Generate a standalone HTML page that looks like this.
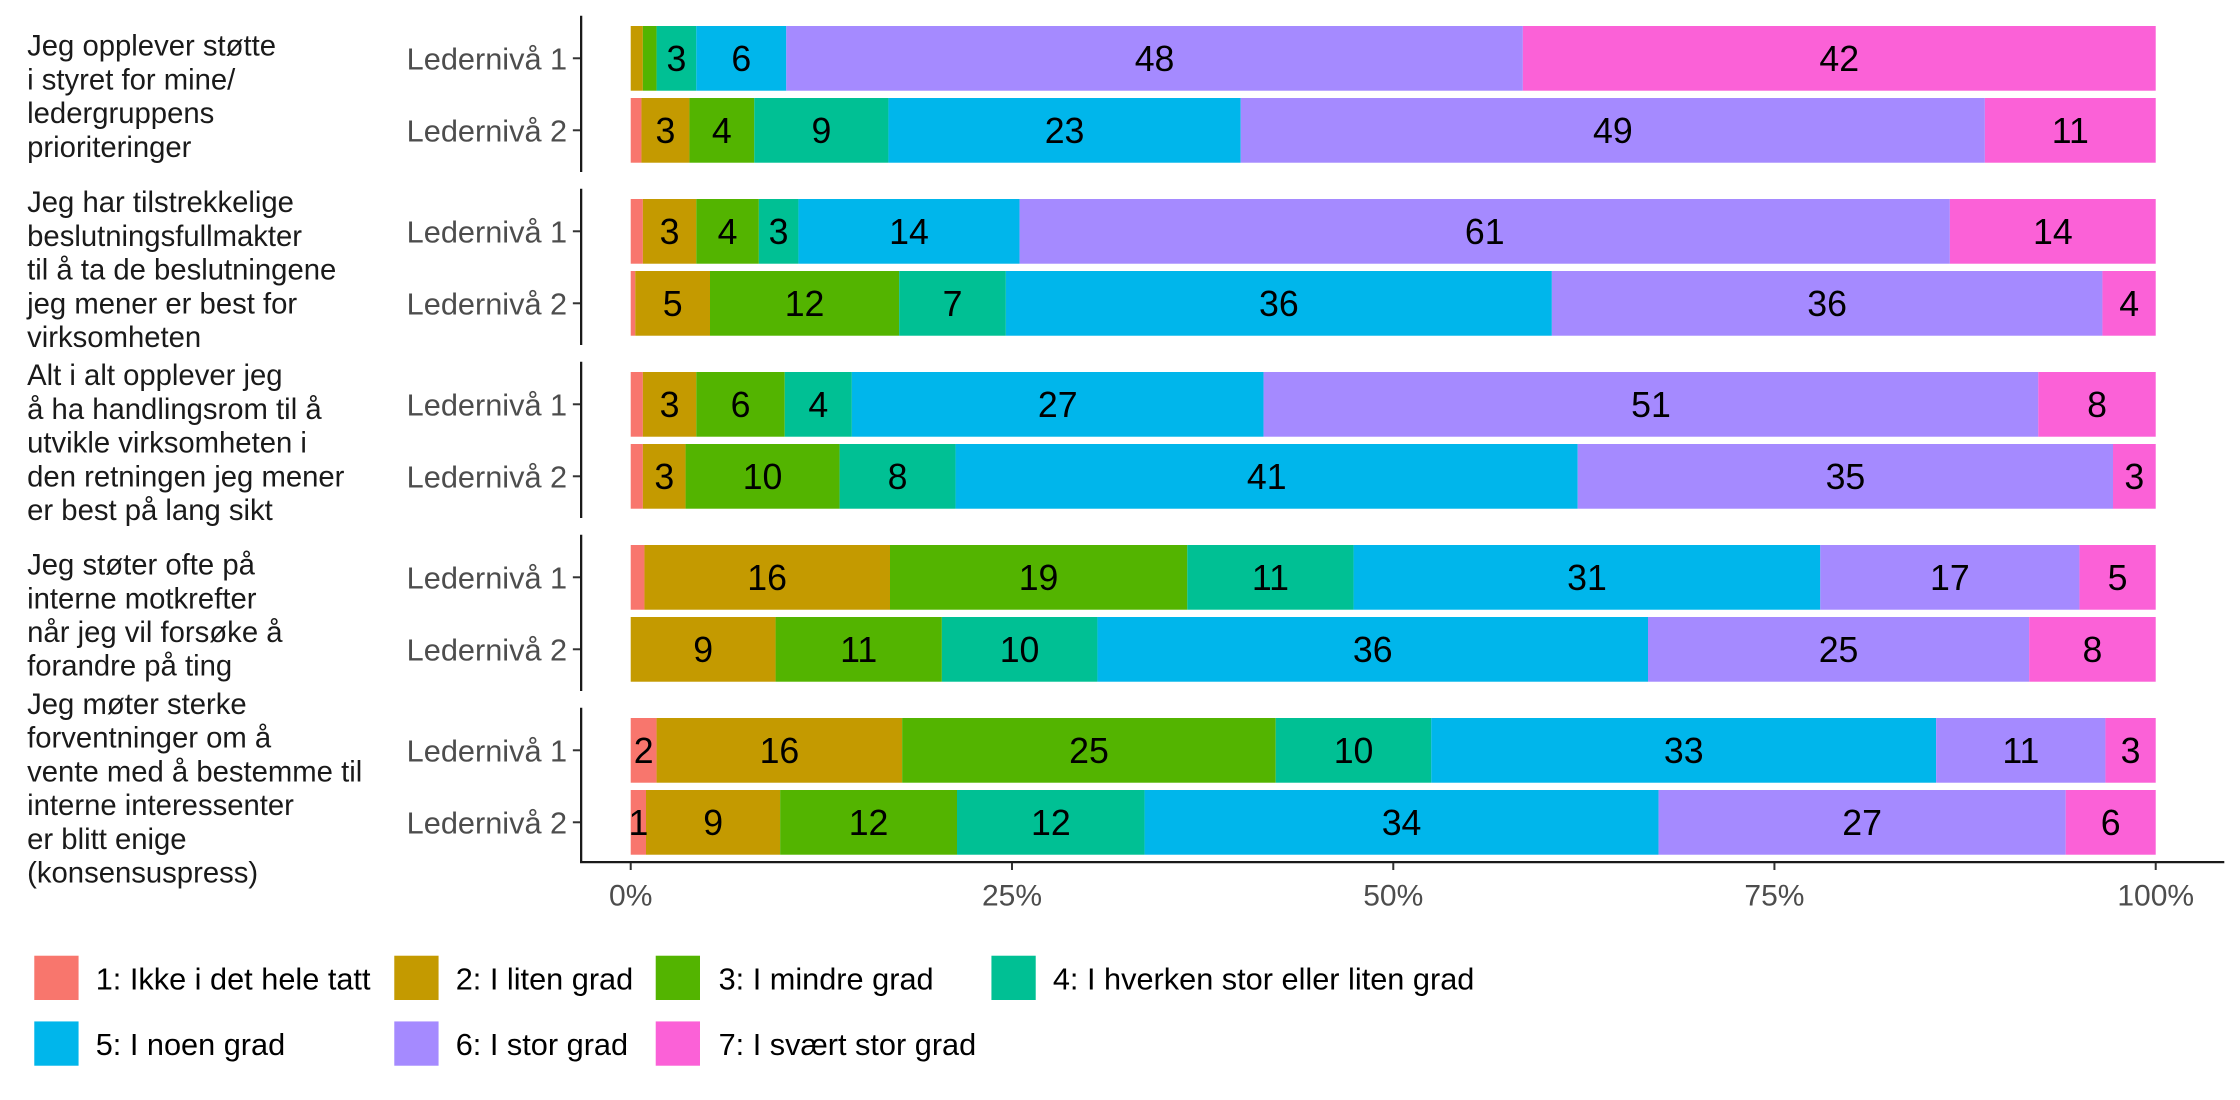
<!DOCTYPE html>
<html><head><meta charset="utf-8"><style>html,body{margin:0;padding:0;background:#fff}svg{display:block}</style></head><body>
<svg width="2240" height="1100" viewBox="0 0 1568 770" xmlns="http://www.w3.org/2000/svg" font-family="Liberation Sans, Arial, sans-serif">
<rect width="1568" height="770" fill="#fff"/>
<g fill="#1A1A1A" font-size="20.5">
<text x="19" y="39">Jeg opplever støtte</text><text x="19" y="62.6">i styret for mine/</text><text x="19" y="86.2">ledergruppens</text><text x="19" y="109.8">prioriteringer</text>
<text x="19" y="148.5">Jeg har tilstrekkelige</text><text x="19" y="172.1">beslutningsfullmakter</text><text x="19" y="195.7">til å ta de beslutningene</text><text x="19" y="219.3">jeg mener er best for</text><text x="19" y="242.9">virksomheten</text>
<text x="19" y="269.6">Alt i alt opplever jeg</text><text x="19" y="293.2">å ha handlingsrom til å</text><text x="19" y="316.8">utvikle virksomheten i</text><text x="19" y="340.4">den retningen jeg mener</text><text x="19" y="364">er best på lang sikt</text>
<text x="19" y="402.2">Jeg støter ofte på</text><text x="19" y="425.8">interne motkrefter</text><text x="19" y="449.4">når jeg vil forsøke å</text><text x="19" y="473">forandre på ting</text>
<text x="19" y="499.8">Jeg møter sterke</text><text x="19" y="523.4">forventninger om å</text><text x="19" y="547">vente med å bestemme til</text><text x="19" y="570.6">interne interessenter</text><text x="19" y="594.2">er blitt enige</text><text x="19" y="617.8">(konsensuspress)</text>
</g>
<g fill="#4D4D4D" font-size="21.5" text-anchor="end">
<text x="397" y="48.5">Ledernivå 1</text><text x="397" y="98.9">Ledernivå 2</text>
<text x="397" y="169.6">Ledernivå 1</text><text x="397" y="220">Ledernivå 2</text>
<text x="397" y="290.7">Ledernivå 1</text><text x="397" y="341.1">Ledernivå 2</text>
<text x="397" y="411.8">Ledernivå 1</text><text x="397" y="462.2">Ledernivå 2</text>
<text x="397" y="532.9">Ledernivå 1</text><text x="397" y="583.3">Ledernivå 2</text>
</g>
<g stroke="#1A1A1A" stroke-width="1.6">
<line x1="406.8" y1="11" x2="406.8" y2="120.4"/><line x1="406.8" y1="132.1" x2="406.8" y2="241.5"/><line x1="406.8" y1="253.2" x2="406.8" y2="362.6"/><line x1="406.8" y1="374.3" x2="406.8" y2="483.7"/><line x1="406.8" y1="495.4" x2="406.8" y2="604"/>
<line x1="406" y1="603.5" x2="1557" y2="603.5"/>
</g>
<g stroke="#333" stroke-width="1.4">
<line x1="401" y1="40.8" x2="406" y2="40.8"/><line x1="401" y1="91.2" x2="406" y2="91.2"/>
<line x1="401" y1="161.9" x2="406" y2="161.9"/><line x1="401" y1="212.3" x2="406" y2="212.3"/>
<line x1="401" y1="283" x2="406" y2="283"/><line x1="401" y1="333.4" x2="406" y2="333.4"/>
<line x1="401" y1="404.1" x2="406" y2="404.1"/><line x1="401" y1="454.5" x2="406" y2="454.5"/>
<line x1="401" y1="525.2" x2="406" y2="525.2"/><line x1="401" y1="575.6" x2="406" y2="575.6"/>
<line x1="441.5" y1="604" x2="441.5" y2="609"/><line x1="708.4" y1="604" x2="708.4" y2="609"/><line x1="975.3" y1="604" x2="975.3" y2="609"/><line x1="1242.1" y1="604" x2="1242.1" y2="609"/><line x1="1509" y1="604" x2="1509" y2="609"/>
</g>
<g fill="#4D4D4D" font-size="21" text-anchor="middle">
<text x="441.5" y="634">0%</text><text x="708.4" y="634">25%</text><text x="975.3" y="634">50%</text><text x="1242.1" y="634">75%</text><text x="1509" y="634">100%</text>
</g>
<g>
<rect x="441.5" y="18.2" width="8.5" height="45.3" fill="#C49A00"/><rect x="450" y="18.2" width="9.6" height="45.3" fill="#53B400"/><rect x="459.6" y="18.2" width="27.8" height="45.3" fill="#00C094"/><rect x="487.4" y="18.2" width="63" height="45.3" fill="#00B6EB"/><rect x="550.4" y="18.2" width="515.6" height="45.3" fill="#A58AFF"/><rect x="1066" y="18.2" width="443" height="45.3" fill="#FB61D7"/>
<rect x="441.5" y="68.6" width="7.5" height="45.3" fill="#F8766D"/><rect x="449" y="68.6" width="33.6" height="45.3" fill="#C49A00"/><rect x="482.6" y="68.6" width="45.4" height="45.3" fill="#53B400"/><rect x="528" y="68.6" width="93.9" height="45.3" fill="#00C094"/><rect x="621.9" y="68.6" width="246.6" height="45.3" fill="#00B6EB"/><rect x="868.5" y="68.6" width="520.9" height="45.3" fill="#A58AFF"/><rect x="1389.4" y="68.6" width="119.6" height="45.3" fill="#FB61D7"/>
<rect x="441.5" y="139.3" width="8.5" height="45.3" fill="#F8766D"/><rect x="450" y="139.3" width="37.4" height="45.3" fill="#C49A00"/><rect x="487.4" y="139.3" width="43.8" height="45.3" fill="#53B400"/><rect x="531.2" y="139.3" width="27.7" height="45.3" fill="#00C094"/><rect x="558.9" y="139.3" width="154.8" height="45.3" fill="#00B6EB"/><rect x="713.7" y="139.3" width="651.2" height="45.3" fill="#A58AFF"/><rect x="1364.9" y="139.3" width="144.1" height="45.3" fill="#FB61D7"/>
<rect x="441.5" y="189.7" width="3.2" height="45.3" fill="#F8766D"/><rect x="444.7" y="189.7" width="52.3" height="45.3" fill="#C49A00"/><rect x="497" y="189.7" width="132.4" height="45.3" fill="#53B400"/><rect x="629.4" y="189.7" width="74.7" height="45.3" fill="#00C094"/><rect x="704.1" y="189.7" width="382.2" height="45.3" fill="#00B6EB"/><rect x="1086.3" y="189.7" width="385.4" height="45.3" fill="#A58AFF"/><rect x="1471.7" y="189.7" width="37.3" height="45.3" fill="#FB61D7"/>
<rect x="441.5" y="260.4" width="8.5" height="45.3" fill="#F8766D"/><rect x="450" y="260.4" width="37.4" height="45.3" fill="#C49A00"/><rect x="487.4" y="260.4" width="61.9" height="45.3" fill="#53B400"/><rect x="549.3" y="260.4" width="47" height="45.3" fill="#00C094"/><rect x="596.3" y="260.4" width="288.2" height="45.3" fill="#00B6EB"/><rect x="884.5" y="260.4" width="542.3" height="45.3" fill="#A58AFF"/><rect x="1426.8" y="260.4" width="82.2" height="45.3" fill="#FB61D7"/>
<rect x="441.5" y="310.8" width="8.5" height="45.3" fill="#F8766D"/><rect x="450" y="310.8" width="29.9" height="45.3" fill="#C49A00"/><rect x="479.9" y="310.8" width="107.8" height="45.3" fill="#53B400"/><rect x="587.7" y="310.8" width="81.2" height="45.3" fill="#00C094"/><rect x="668.9" y="310.8" width="435.5" height="45.3" fill="#00B6EB"/><rect x="1104.4" y="310.8" width="374.7" height="45.3" fill="#A58AFF"/><rect x="1479.1" y="310.8" width="29.9" height="45.3" fill="#FB61D7"/>
<rect x="441.5" y="381.5" width="9.6" height="45.3" fill="#F8766D"/><rect x="451.1" y="381.5" width="171.9" height="45.3" fill="#C49A00"/><rect x="623" y="381.5" width="208.1" height="45.3" fill="#53B400"/><rect x="831.1" y="381.5" width="116.4" height="45.3" fill="#00C094"/><rect x="947.5" y="381.5" width="326.7" height="45.3" fill="#00B6EB"/><rect x="1274.2" y="381.5" width="181.4" height="45.3" fill="#A58AFF"/><rect x="1455.6" y="381.5" width="53.4" height="45.3" fill="#FB61D7"/>
<rect x="441.5" y="431.9" width="101.4" height="45.3" fill="#C49A00"/><rect x="542.9" y="431.9" width="116.4" height="45.3" fill="#53B400"/><rect x="659.3" y="431.9" width="108.9" height="45.3" fill="#00C094"/><rect x="768.2" y="431.9" width="385.4" height="45.3" fill="#00B6EB"/><rect x="1153.6" y="431.9" width="266.8" height="45.3" fill="#A58AFF"/><rect x="1420.4" y="431.9" width="88.6" height="45.3" fill="#FB61D7"/>
<rect x="441.5" y="502.6" width="18.1" height="45.3" fill="#F8766D"/><rect x="459.6" y="502.6" width="171.9" height="45.3" fill="#C49A00"/><rect x="631.5" y="502.6" width="261.5" height="45.3" fill="#53B400"/><rect x="893" y="502.6" width="108.9" height="45.3" fill="#00C094"/><rect x="1001.9" y="502.6" width="353.4" height="45.3" fill="#00B6EB"/><rect x="1355.3" y="502.6" width="118.5" height="45.3" fill="#A58AFF"/><rect x="1473.8" y="502.6" width="35.2" height="45.3" fill="#FB61D7"/>
<rect x="441.5" y="553" width="10.7" height="45.3" fill="#F8766D"/><rect x="452.2" y="553" width="93.9" height="45.3" fill="#C49A00"/><rect x="546.1" y="553" width="123.8" height="45.3" fill="#53B400"/><rect x="669.9" y="553" width="131.3" height="45.3" fill="#00C094"/><rect x="801.2" y="553" width="359.8" height="45.3" fill="#00B6EB"/><rect x="1161" y="553" width="285" height="45.3" fill="#A58AFF"/><rect x="1446" y="553" width="63" height="45.3" fill="#FB61D7"/>
</g>
<g fill="#000" font-size="25" text-anchor="middle">
<text x="473.5" y="49.8">3</text><text x="518.9" y="49.8">6</text><text x="808.2" y="49.8">48</text><text x="1287.5" y="49.8">42</text>
<text x="465.8" y="100.2">3</text><text x="505.3" y="100.2">4</text><text x="575" y="100.2">9</text><text x="745.2" y="100.2">23</text><text x="1129" y="100.2">49</text><text x="1449.2" y="100.2">11</text>
<text x="468.7" y="170.9">3</text><text x="509.3" y="170.9">4</text><text x="545" y="170.9">3</text><text x="636.3" y="170.9">14</text><text x="1039.3" y="170.9">61</text><text x="1437" y="170.9">14</text>
<text x="470.9" y="221.3">5</text><text x="563.2" y="221.3">12</text><text x="666.8" y="221.3">7</text><text x="895.2" y="221.3">36</text><text x="1279" y="221.3">36</text><text x="1490.4" y="221.3">4</text>
<text x="468.7" y="292">3</text><text x="518.4" y="292">6</text><text x="572.8" y="292">4</text><text x="740.4" y="292">27</text><text x="1155.7" y="292">51</text><text x="1467.9" y="292">8</text>
<text x="465" y="342.4">3</text><text x="533.8" y="342.4">10</text><text x="628.3" y="342.4">8</text><text x="886.7" y="342.4">41</text><text x="1291.8" y="342.4">35</text><text x="1494" y="342.4">3</text>
<text x="537" y="413.1">16</text><text x="727" y="413.1">19</text><text x="889.3" y="413.1">11</text><text x="1110.9" y="413.1">31</text><text x="1364.9" y="413.1">17</text><text x="1482.3" y="413.1">5</text>
<text x="492.2" y="463.5">9</text><text x="601.1" y="463.5">11</text><text x="713.7" y="463.5">10</text><text x="960.9" y="463.5">36</text><text x="1287" y="463.5">25</text><text x="1464.7" y="463.5">8</text>
<text x="450.6" y="534.2">2</text><text x="545.6" y="534.2">16</text><text x="762.3" y="534.2">25</text><text x="947.5" y="534.2">10</text><text x="1178.6" y="534.2">33</text><text x="1414.6" y="534.2">11</text><text x="1491.4" y="534.2">3</text>
<text x="446.9" y="584.6">1</text><text x="499.2" y="584.6">9</text><text x="608" y="584.6">12</text><text x="735.6" y="584.6">12</text><text x="981.1" y="584.6">34</text><text x="1303.5" y="584.6">27</text><text x="1477.5" y="584.6">6</text>
</g>
<rect x="24" y="669" width="31" height="31" fill="#F8766D"/><rect x="276" y="669" width="31" height="31" fill="#C49A00"/><rect x="459" y="669" width="31" height="31" fill="#53B400"/><rect x="694" y="669" width="31" height="31" fill="#00C094"/>
<rect x="24" y="715" width="31" height="31" fill="#00B6EB"/><rect x="276" y="715" width="31" height="31" fill="#A58AFF"/><rect x="459" y="715" width="31" height="31" fill="#FB61D7"/>
<g fill="#000" font-size="21.5">
<text x="67" y="692.5">1: Ikke i det hele tatt</text><text x="319" y="692.5">2: I liten grad</text><text x="503" y="692.5">3: I mindre grad</text><text x="737" y="692.5">4: I hverken stor eller liten grad</text>
<text x="67" y="738.5">5: I noen grad</text><text x="319" y="738.5">6: I stor grad</text><text x="503" y="738.5">7: I svært stor grad</text>
</g>
</svg>
</body></html>
